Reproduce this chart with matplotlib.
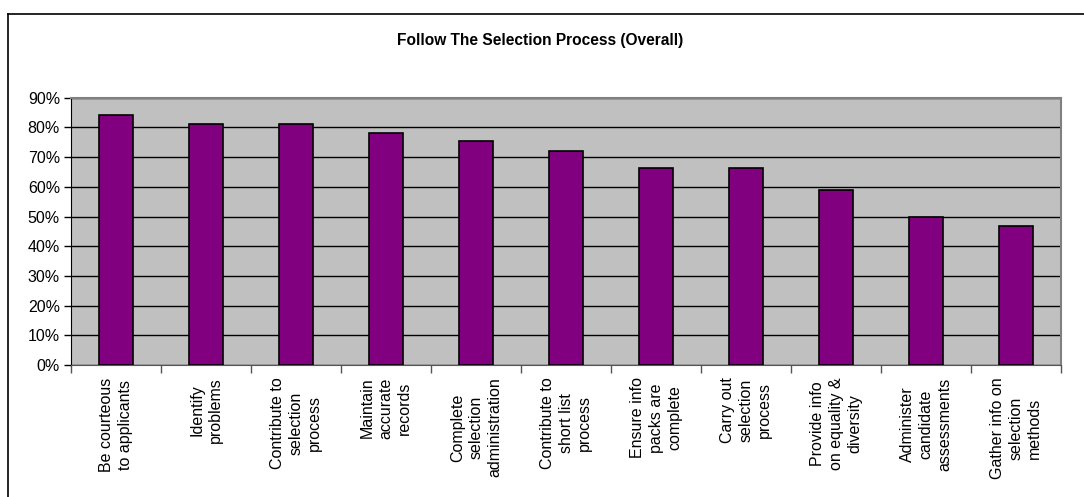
import matplotlib.pyplot as plt
from matplotlib.lines import Line2D
from matplotlib.ticker import PercentFormatter
import numpy as np

plt.rcParams['font.family'] = ['Liberation Sans', 'DejaVu Sans']

labels = [
    "Be courteous\nto applicants",
    "Identify\nproblems",
    "Contribute to\nselection\nprocess",
    "Maintain\naccurate\nrecords",
    "Complete\nselection\nadministration",
    "Contribute to\nshort list\nprocess",
    "Ensure info\npacks are\ncomplete",
    "Carry out\nselection\nprocess",
    "Provide info\non equality &\ndiversity",
    "Administer\ncandidate\nassessments",
    "Gather info on\nselection\nmethods",
]
values = [0.843, 0.812, 0.812, 0.781, 0.754, 0.722, 0.662, 0.662, 0.590, 0.500, 0.468]

fig = plt.figure(figsize=(10.84, 4.97), dpi=100)
ax = fig.add_axes([0.0655, 0.2656, 0.9135, 0.5378])

x = np.arange(len(values))
ax.set_facecolor('#C0C0C0')
ax.bar(x, values, width=0.38, color='#800080', edgecolor='black', linewidth=1.2, zorder=3)

ax.set_ylim(0, 0.9)
ax.set_xlim(-0.5, len(values) - 0.5)
ax.set_yticks(np.arange(0, 0.91, 0.1))
ax.yaxis.set_major_formatter(PercentFormatter(1.0, decimals=0))
ax.grid(axis='y', color='black', linewidth=1.0, zorder=1)
ax.tick_params(axis='y', labelsize=11.5, direction='out', length=5, width=1, pad=3)

# category labels
ax.set_xticks(x)
ax.set_xticklabels(labels, rotation=90, va='top', ha='center',
                   multialignment='center', fontsize=11.5, linespacing=1.3)
ax.tick_params(axis='x', which='major', length=0, pad=9)
ax.set_xticks(np.arange(-0.5, len(values), 1), minor=True)
ax.tick_params(axis='x', which='minor', direction='out', length=6, width=1, color='#555555')

for side in ['top', 'right']:
    ax.spines[side].set_color('#808080')
    ax.spines[side].set_linewidth(1.5)
ax.spines['left'].set_color('black')
ax.spines['bottom'].set_color('#555555')

fig.text(0.498, 0.918, 'Follow The Selection Process (Overall)',
         ha='center', va='center', fontsize=11.2, fontweight='bold')

# outer chart border
fig.add_artist(Line2D([0.0075, 0.0075], [0.0, 0.972], color='black', linewidth=1.2))
fig.add_artist(Line2D([0.0075, 1.0], [0.972, 0.972], color='black', linewidth=1.2))

fig.savefig('out.png', dpi=100)
